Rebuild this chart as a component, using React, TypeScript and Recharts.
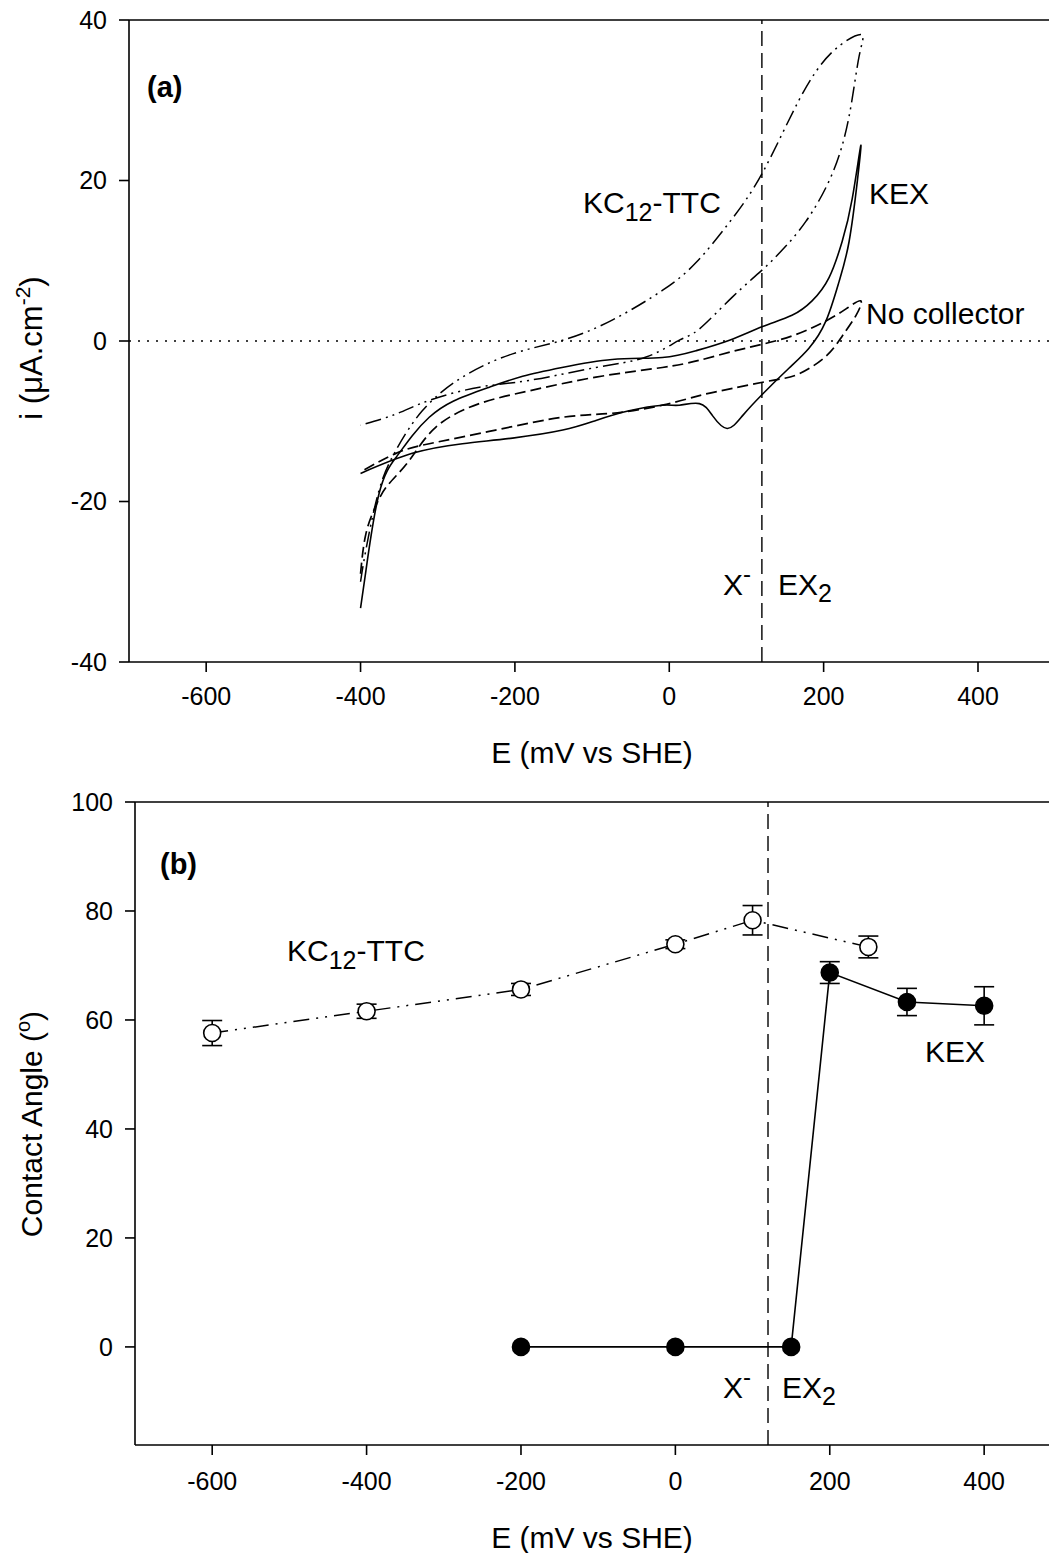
import React from "react"
import { LineChart, Line, XAxis, YAxis, ReferenceLine, ErrorBar } from "recharts"

const FONT = '"Liberation Sans", Arial, Helvetica, sans-serif'

// (a) cyclic voltammograms, points in scan order: E (mV vs SHE), i (uA/cm2)
const kexE = [-400, -393, -376, -354, -333, -311, -280, -233, -190, -139, -74, -9, 35, 78, 121, 159, 185, 207, 224, 237, 248,
  244, 233, 220, 203, 181, 155, 121, 95, 75, 56, 39, 13, -9, -52, -95, -138, -203, -268, -333, -400]
const kexI = [-33.3, -28.6, -19, -14.5, -11.8, -9.5, -7.5, -5.75, -4.4, -3.3, -2.3, -2.05, -1.2, 0.1, 1.8, 3.2, 5.0, 7.9, 12.4, 17.7, 24.3,
  20.2, 12.4, 7.4, 2.5, -0.9, -3.4, -6.6, -9.3, -10.9, -9.3, -7.8, -8.0, -8.0, -8.7, -9.9, -11.1, -12.1, -12.8, -14.0, -16.5]

const noCollE = [-400, -393, -380, -365, -337, -302, -246, -181, -95, -9, 39, 82, 121, 164, 203, 229, 248,
  242, 224, 203, 168, 134, 82, 39, -9, -74, -138, -225, -311, -354, -400]
const noCollI = [-29, -24, -20.5, -18, -14.9, -10.7, -7.8, -6.2, -4.5, -3.3, -2.4, -1.3, -0.4, 0.8, 2.5, 4.0, 5.0,
  3.2, 0.6, -1.9, -4.1, -4.9, -5.9, -6.8, -8.0, -9.0, -9.5, -11.1, -12.8, -14.0, -16.3]

const ttcE = [-400, -393, -376, -354, -320, -268, -203, -138, -74, -9, 35, 78, 121, 168, 211, 248,
  246, 233, 211, 177, 146, 121, 82, 39, 13, -30, -95, -181, -246, -311, -354, -400]
const ttcI = [-30, -26, -18.6, -13.6, -8.7, -4.5, -1.6, 0.1, 2.6, 6.3, 9.8, 14.8, 21, 30, 36, 38.2,
  35.5, 28, 20.8, 14.9, 11.3, 8.9, 5.5, 1.5, 0.1, -2.0, -3.3, -4.9, -5.75, -7.4, -9.1, -10.5]

// (b) contact angles (degrees) with error
const ttcPotentials = [-600, -400, -200, 0, 100, 250]
const ttcAngles = [57.6, 61.6, 65.6, 73.9, 78.3, 73.4]
const ttcAngleErr = [2.3, 1.3, 1.1, 0.8, 2.7, 2.0]
const kexPotentials = [-200, 0, 150, 200, 300, 400]
const kexAngles = [0, 0, 0, 68.7, 63.3, 62.6]
const kexAngleErr = [null, null, null, 2.0, 2.5, 3.5]

const xTicks = [-600, -400, -200, 0, 200, 400]
const cvTicks = [-40, -20, 0, 20, 40]
const angleTicks = [0, 20, 40, 60, 80, 100]
const transition = 120

const zip = (es: number[], vs: number[]) => es.map((e, i) => ({ e, v: vs[i] }))
const zipErr = (es: number[], vs: number[], errs: (number | null)[]) =>
  es.map((e, i) => ({ e, v: vs[i], err: errs[i] }))

const tickStyle = { fill: "#000", fontSize: 25, fontFamily: FONT }
const axisStroke = { stroke: "#000", strokeWidth: 1.6 }

export default function App() {
  const txt = { fontFamily: FONT, fontSize: 30, fill: "#000" }
  return (
    <div style={{ position: "absolute", left: 0, top: 0, width: 1051, height: 1553, background: "#fff" }}>
      <div style={{ position: "absolute", left: 0, top: 0 }}>
        <LineChart width={1051} height={780} margin={{ top: 20, right: 2, bottom: 0, left: 69 }}>
          <XAxis type="number" dataKey="e" domain={[-700, 492]} ticks={xTicks} allowDataOverflow
            height={118} tick={tickStyle} tickSize={10} tickMargin={15} axisLine={axisStroke} tickLine={axisStroke} />
          <YAxis type="number" dataKey="v" domain={[-40, 40]} ticks={cvTicks} allowDataOverflow
            width={60} tick={tickStyle} tickSize={10} tickMargin={12} axisLine={axisStroke} tickLine={axisStroke} />
          <ReferenceLine y={40} stroke="#000" strokeWidth={1.6} />
          <ReferenceLine y={0} stroke="#000" strokeWidth={1.5} strokeDasharray="2 7" />
          <ReferenceLine x={transition} stroke="#000" strokeWidth={1.4} strokeDasharray="15 7" />
          <Line data={zip(noCollE, noCollI)} dataKey="v" type="natural" stroke="#000" strokeWidth={1.7}
            strokeDasharray="11 5" dot={false} isAnimationActive={false} />
          <Line data={zip(ttcE, ttcI)} dataKey="v" type="natural" stroke="#000" strokeWidth={1.5}
            strokeDasharray="16 5 2 5 2 5" dot={false} isAnimationActive={false} />
          <Line data={zip(kexE, kexI)} dataKey="v" type="natural" stroke="#000" strokeWidth={1.6}
            dot={false} isAnimationActive={false} />
        </LineChart>
      </div>
      <div style={{ position: "absolute", left: 0, top: 780 }}>
        <LineChart width={1051} height={773} margin={{ top: 22, right: 2, bottom: 0, left: 75 }}>
          <XAxis type="number" dataKey="e" domain={[-700, 484]} ticks={xTicks} allowDataOverflow
            height={108} tick={tickStyle} tickSize={10} tickMargin={17} axisLine={axisStroke} tickLine={axisStroke} />
          <YAxis type="number" dataKey="v" domain={[-18, 100]} ticks={angleTicks} allowDataOverflow
            width={60} tick={tickStyle} tickSize={10} tickMargin={12} axisLine={axisStroke} tickLine={axisStroke} />
          <ReferenceLine y={100} stroke="#000" strokeWidth={1.6} />
          <ReferenceLine x={transition} stroke="#000" strokeWidth={1.4} strokeDasharray="15 7" />
          <Line data={zipErr(ttcPotentials, ttcAngles, ttcAngleErr)} dataKey="v" type="linear" stroke="#000"
            strokeWidth={1.5} strokeDasharray="16 7 2 7 2 7"
            dot={{ r: 8.5, fill: "#fff", stroke: "#000", strokeWidth: 1.6, strokeDasharray: "none" }}
            isAnimationActive={false}>
            <ErrorBar dataKey="err" direction="y" width={10} stroke="#000" strokeWidth={1.6} />
          </Line>
          <Line data={zipErr(kexPotentials, kexAngles, kexAngleErr)} dataKey="v" type="linear" stroke="#000"
            strokeWidth={1.6}
            dot={{ r: 8.5, fill: "#000", stroke: "#000", strokeWidth: 1.6 }}
            isAnimationActive={false}>
            <ErrorBar dataKey="err" direction="y" width={10} stroke="#000" strokeWidth={1.6} />
          </Line>
        </LineChart>
      </div>
      <svg width={1051} height={1553} style={{ position: "absolute", left: 0, top: 0, pointerEvents: "none" }}>
        {/* panel (a) */}
        <text x={147} y={97} {...txt} fontSize={29} fontWeight="bold">(a)</text>
        <text x={583} y={213} {...txt}>KC<tspan fontSize={25} dy={8}>12</tspan><tspan dy={-8}>-TTC</tspan></text>
        <text x={869} y={204} {...txt}>KEX</text>
        <text x={866} y={324} {...txt}>No collector</text>
        <text x={723} y={595} {...txt}>X<tspan fontSize={24} dy={-13}>-</tspan></text>
        <text x={778} y={595} {...txt}>EX<tspan fontSize={25} dy={7}>2</tspan></text>
        <text x={592} y={763} {...txt} textAnchor="middle">E (mV vs SHE)</text>
        <text transform="translate(42,348) rotate(-90)" {...txt} fontSize={31} textAnchor="middle">
          i (μA.cm<tspan fontSize={21} dy={-12}>-2</tspan><tspan dy={12}>)</tspan>
        </text>
        {/* panel (b) */}
        <text x={160} y={874} {...txt} fontSize={29} fontWeight="bold">(b)</text>
        <text x={287} y={961} {...txt}>KC<tspan fontSize={25} dy={8}>12</tspan><tspan dy={-8}>-TTC</tspan></text>
        <text x={925} y={1062} {...txt}>KEX</text>
        <text x={723} y={1398} {...txt}>X<tspan fontSize={24} dy={-13}>-</tspan></text>
        <text x={782} y={1398} {...txt}>EX<tspan fontSize={25} dy={7}>2</tspan></text>
        <text x={592} y={1548} {...txt} textAnchor="middle">E (mV vs SHE)</text>
        <text transform="translate(42,1124) rotate(-90)" {...txt} textAnchor="middle">
          Contact Angle (<tspan fontSize={20} dy={-12}>o</tspan><tspan dy={12}>)</tspan>
        </text>
      </svg>
    </div>
  )
}
